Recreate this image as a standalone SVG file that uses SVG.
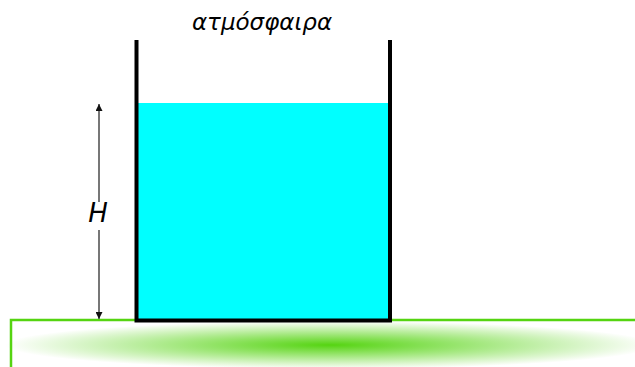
<svg xmlns="http://www.w3.org/2000/svg" width="635" height="367" viewBox="0 0 635 367">
  <defs>
    <radialGradient id="soil" cx="0.5" cy="0.5" r="0.5">
      <stop offset="0" stop-color="#55d411" stop-opacity="1"/>
      <stop offset="1" stop-color="#55d411" stop-opacity="0"/>
    </radialGradient>
    <marker id="ah" viewBox="0 0 10 10" refX="10" refY="5" markerWidth="3.5" markerHeight="3.5" orient="auto-start-reverse" markerUnits="strokeWidth">
      <path d="M0,0 L10,5 L0,10 z" fill="#111"/>
    </marker>
    <style>
      .lbl { font-family: "DejaVu Sans", "Liberation Sans", sans-serif; font-style: italic; fill: #000; }
      .wall { fill: none; stroke: #000; stroke-width: 4; }
      .dim { stroke: #777; stroke-width: 2; fill: none; }
    </style>
  </defs>
  <rect width="635" height="367" fill="#fff"/>
  <g id="ground">
    <ellipse cx="330" cy="345" rx="325" ry="24" fill="url(#soil)"/>
    <path d="M11,367 V320 H635" fill="none" stroke="#55d411" stroke-width="2.5"/>
  </g>
  <g id="tank">
    <rect x="138" y="103" width="251" height="217" fill="#00ffff"/>
    <path class="wall" d="M136.5,40 V320.5 H390 V40"/>
  </g>
  <g id="connectors">
    <line class="dim" x1="99" y1="104" x2="99" y2="202" marker-start="url(#ah)"/>
    <line class="dim" x1="99" y1="230" x2="99" y2="319" marker-end="url(#ah)"/>
  </g>
  <g id="label-H">
    <text class="lbl" x="98" y="222" font-size="26" text-anchor="middle">H</text>
  </g>
  <g id="label-atm">
    <text class="lbl" x="262" y="30" font-size="23" text-anchor="middle">ατμόσφαιρα</text>
  </g>
</svg>
